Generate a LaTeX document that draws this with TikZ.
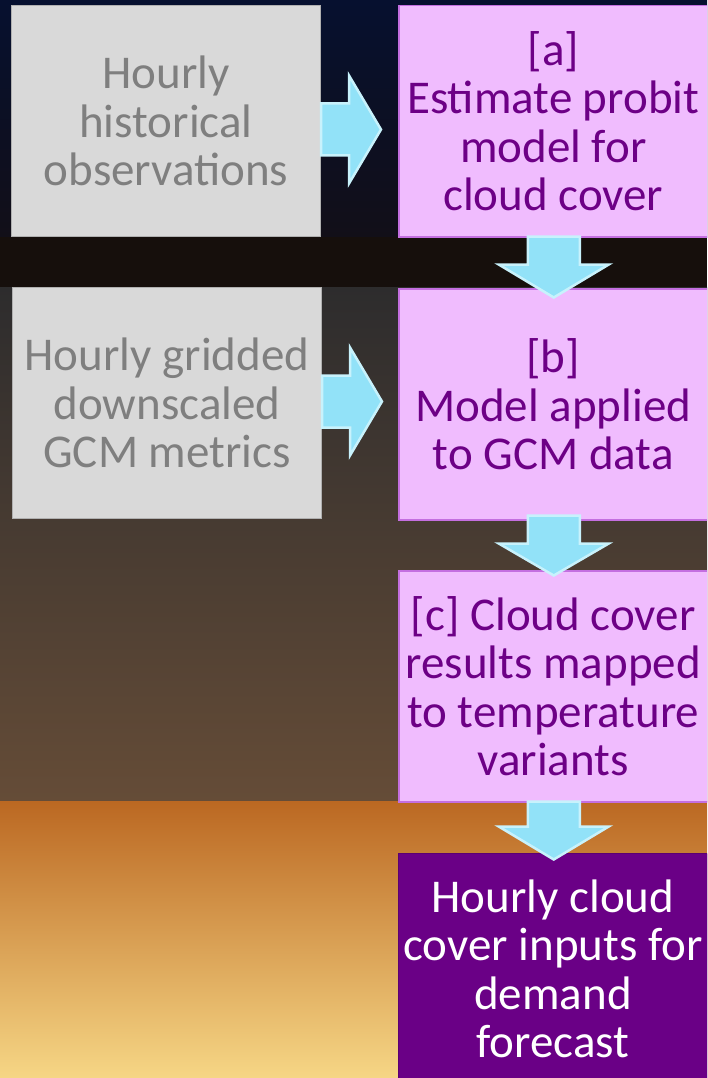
\documentclass[tikz,border=0pt]{standalone}
\usepackage{fontspec}
\setmainfont{Carlito}
\usetikzlibrary{calc}
\definecolor{navytop}{HTML}{06102F}
\definecolor{navybot}{HTML}{120F18}
\definecolor{darkband}{HTML}{160F0C}
\definecolor{browntop}{HTML}{2D2C2D}
\definecolor{brownmid}{HTML}{4D3829}
\definecolor{brownbot}{HTML}{654C37}
\definecolor{orangetop}{HTML}{BB6822}
\definecolor{orangemid}{HTML}{DFA658}
\definecolor{orangebot}{HTML}{F6D685}
\definecolor{grayfill}{HTML}{D9D9D9}
\definecolor{grayline}{HTML}{B0B0B0}
\definecolor{graytext}{HTML}{7F7F7F}
\definecolor{pinkfill}{HTML}{F0BCFE}
\definecolor{pinkline}{HTML}{C46FE0}
\definecolor{purpletext}{HTML}{6D0086}
\definecolor{purplefill}{HTML}{6A0086}
\definecolor{purpleline}{HTML}{5A0072}
\definecolor{arrowfill}{HTML}{92E2F8}
\definecolor{arrowline}{HTML}{C8F2FC}
\tikzset{
  boxbase/.style={anchor=north west, minimum height=231pt, minimum width=309pt,
    inner xsep=0pt, inner ysep=0pt, align=center,
    font=\fontsize{47}{48.5}\selectfont},
  graybox/.style={boxbase, fill=grayfill, draw=grayline, line width=1pt, text=graytext},
  pinkbox/.style={boxbase, fill=pinkfill, draw=pinkline, line width=1.5pt, text=purpletext},
  purplebox/.style={boxbase, fill=purplefill, draw=purpleline, line width=1pt, text=white},
  blockarrow/.style={fill=arrowfill, draw=arrowline, line width=2.5pt, line join=miter}
}
\begin{document}
\begin{tikzpicture}[x=1pt,y=-1pt]
\useasboundingbox (0,0) rectangle (707,1078);
\clip (0,0) rectangle (707,1078);
% background bands
\shade[top color=navytop, bottom color=navybot] (0,0) rectangle (707,237);
\fill[darkband] (0,237) rectangle (707,287);
\shade[top color=browntop, middle color=brownmid, bottom color=brownbot] (0,287) rectangle (707,801);
\shade[top color=orangetop, middle color=orangemid, bottom color=orangebot] (0,801) rectangle (707,1078);
% boxes
\node[graybox] (g1) at (11,5) {Hourly\\historical\\observations};
\node[pinkbox] (a) at (398,5) {[a]\\Estimate probit\\model for\\cloud cover};
\node[graybox] (g2) at (12,287) {Hourly gridded\\downscaled\\GCM metrics};
\node[pinkbox] (b) at (398,288) {[b]\\Model applied\\to GCM data};
\node[pinkbox] (c) at (398,570) {[c] Cloud cover\\results mapped\\to temperature\\variants};
\node[purplebox] (d) at (398,853) {Hourly cloud\\cover inputs for\\demand\\forecast};
% right block arrows (from gray boxes to pink boxes)
\coordinate (r1) at ($(g1.east)+(0,8.5)$);
\coordinate (r2) at ($(g2.east)+(0,-1.5)$);
\foreach \s in {r1,r2}{
  \draw[blockarrow, shift={(\s)}] (0,-26) -- (28,-26) -- (28,-54) -- (60,0) -- (28,54) -- (28,26) -- (0,26) -- cycle;
}
% down block arrows
\coordinate (d1) at ($(a.south)+(0.5,-1)$);
\coordinate (d2) at ($(b.south)+(0.5,-5)$);
\coordinate (d3) at ($(c.south)+(0.5,-1)$);
\draw[blockarrow, shift={(d1)}] (-26,0) -- (26,0) -- (26,28) -- (55,28) -- (0,61) -- (-55,28) -- (-26,28) -- cycle;
\draw[blockarrow, shift={(d2)}] (-26,0) -- (26,0) -- (26,28) -- (55,28) -- (0,60) -- (-55,28) -- (-26,28) -- cycle;
\draw[blockarrow, shift={(d3)}] (-26,0) -- (26,0) -- (26,25) -- (55,25) -- (0,58) -- (-55,25) -- (-26,25) -- cycle;
\end{tikzpicture}
\end{document}
